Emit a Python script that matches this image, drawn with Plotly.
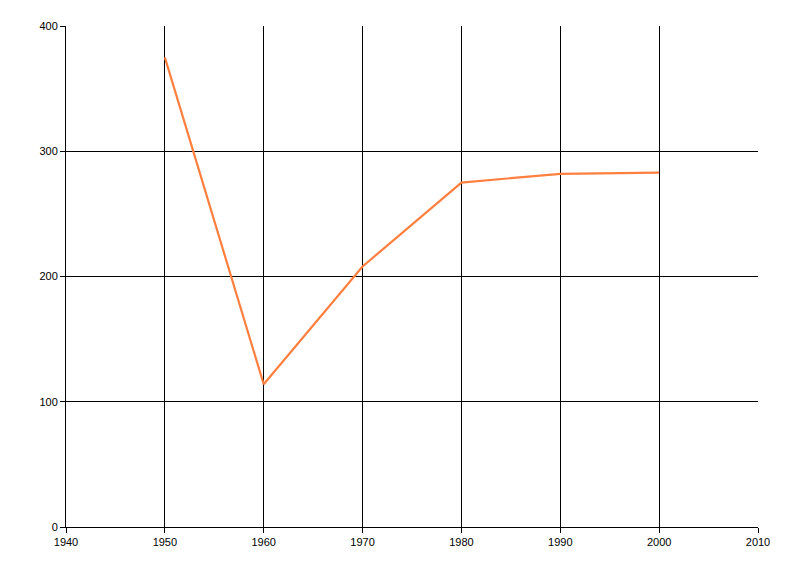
import plotly.graph_objects as go

years = [1950, 1960, 1970, 1980, 1990, 2000]
values = [375, 114, 208, 275, 282, 283]

fig = go.Figure()
fig.add_trace(go.Scatter(x=years, y=values, mode="lines",
                         line=dict(color="#FF7F3F", width=2.2)))

axis_common = dict(showgrid=True, gridcolor="black", gridwidth=1,
                   showline=True, linecolor="black", linewidth=1,
                   ticks="outside", ticklen=5, tickcolor="black",
                   zeroline=False, tickfont=dict(family="Liberation Sans, Arial", size=11, color="black"))

fig.update_layout(
    width=800, height=576,
    margin=dict(l=58, r=50, t=18, b=57),
    paper_bgcolor="white", plot_bgcolor="white",
    showlegend=False,
    xaxis=dict(range=[1940, 2010], tickmode="linear", tick0=1940, dtick=10, **axis_common),
    yaxis=dict(range=[0, 400], tickmode="linear", tick0=0, dtick=100, **axis_common),
)
fig.write_html("out.html")
